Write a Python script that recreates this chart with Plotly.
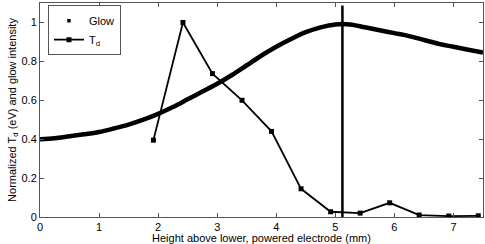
import plotly.graph_objects as go

# Glow intensity curve (normalized)
glow_x = [0, 0.25, 0.5, 0.75, 1, 1.25, 1.5, 1.75, 2, 2.25, 2.5, 2.75, 3, 3.25, 3.5,
          3.75, 4, 4.25, 4.5, 4.75, 5, 5.25, 5.5, 5.75, 6, 6.25, 6.5, 6.75, 7, 7.25, 7.5]
glow_y = [0.40, 0.405, 0.415, 0.425, 0.437, 0.455, 0.475, 0.50, 0.53, 0.565, 0.605,
          0.645, 0.685, 0.73, 0.78, 0.83, 0.875, 0.915, 0.95, 0.975, 0.99, 0.99, 0.975,
          0.96, 0.945, 0.93, 0.91, 0.89, 0.875, 0.86, 0.845]

# Normalized Td
td_x = [1.92, 2.42, 2.92, 3.42, 3.92, 4.42, 4.92, 5.42, 5.92, 6.42, 6.92, 7.42]
td_y = [0.395, 1.0, 0.737, 0.60, 0.44, 0.145, 0.027, 0.02, 0.073, 0.01, 0.005, 0.006]

# Vertical marker line
vline_x = [5.12, 5.12]
vline_y = [0, 1.087]

x_ticks = [0, 1, 2, 3, 4, 5, 6, 7]
y_ticks = [0, 0.2, 0.4, 0.6, 0.8, 1]
y_tick_labels = ["0", "0.2", "0.4", "0.6", "0.8", "1"]

font = "Liberation Sans, Arial, sans-serif"

fig = go.Figure()
fig.add_trace(go.Scatter(x=glow_x, y=glow_y, mode="lines", name="Glow",
                         line=dict(color="black", width=4.5, shape="spline"),
                         showlegend=False))
fig.add_trace(go.Scatter(x=[None], y=[None], mode="markers", name="Glow",
                         marker=dict(color="black", size=3.5, symbol="square")))
fig.add_trace(go.Scatter(x=td_x, y=td_y, mode="lines+markers", name="T<sub>d</sub>",
                         line=dict(color="black", width=1.8),
                         marker=dict(color="black", size=5, symbol="square")))
fig.add_trace(go.Scatter(x=vline_x, y=vline_y, mode="lines", showlegend=False,
                         line=dict(color="black", width=2.5)))

axis_common = dict(showgrid=False, zeroline=False, showline=True, linecolor="#555",
                   linewidth=1, mirror="ticks", ticks="inside", ticklen=4,
                   tickcolor="#555", automargin=False,
                   tickfont=dict(size=11, color="black", family=font))

fig.update_layout(
    width=485, height=244,
    margin=dict(l=40, r=2, t=3, b=27),
    paper_bgcolor="white", plot_bgcolor="white",
    font=dict(family=font, size=11, color="black"),
    xaxis=dict(range=[0, 7.5], tickvals=x_ticks, ticklabelstandoff=0,
               title=dict(text="Height above lower, powered electrode (mm)",
                          font=dict(size=11), standoff=0), **axis_common),
    yaxis=dict(range=[0, 1.1], tickvals=y_ticks, ticktext=y_tick_labels,
               title=dict(text="Normalized T<sub>d</sub> (eV) and glow intensity",
                          font=dict(size=11), standoff=2), **axis_common),
    legend=dict(x=0.018, y=0.99, xanchor="left", yanchor="top",
                bordercolor="#555", borderwidth=1, bgcolor="white",
                font=dict(size=11), itemwidth=30, tracegroupgap=0),
)

fig.write_html("out.html", config={"displayModeBar": False},
               post_script="document.body.style.margin='0';document.body.style.overflow='hidden';")
